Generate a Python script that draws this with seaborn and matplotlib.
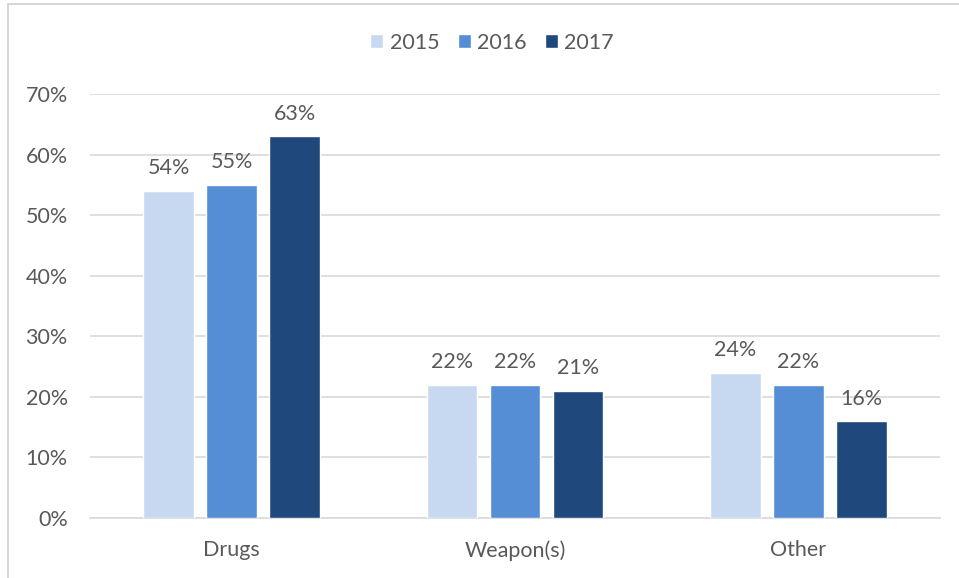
import matplotlib
matplotlib.use("Agg")
import matplotlib.pyplot as plt
import seaborn as sns
import pandas as pd
from matplotlib.patches import Rectangle
from matplotlib.ticker import PercentFormatter

categories = ["Drugs", "Weapon(s)", "Other"]
years = ["2015", "2016", "2017"]
values_2015 = [54, 22, 24]
values_2016 = [55, 22, 22]
values_2017 = [63, 21, 16]
yticks = [0, 10, 20, 30, 40, 50, 60, 70]

colors = ["#C6D9F0", "#558ED5", "#1F497D"]
text_color = "#595959"
grid_color = "#D9D9D9"

df = pd.DataFrame({
    "category": categories * 3,
    "year": [years[0]] * 3 + [years[1]] * 3 + [years[2]] * 3,
    "value": values_2015 + values_2016 + values_2017,
})

sns.set_theme(style="white")
plt.rcParams["font.family"] = ["Lato", "DejaVu Sans"]

fs = 15.5

fig = plt.figure(figsize=(9.59, 5.78), dpi=100)
ax = fig.add_axes([90 / 959, 1 - 518 / 578, 850 / 959, (518 - 94) / 578])

sns.barplot(data=df, x="category", y="value", hue="year", palette=colors,
            width=0.667, gap=0.2, ax=ax, saturation=1, legend=True, zorder=3)

ax.set_ylim(0, 70)
ax.set_xlim(-0.5, 2.5)
ax.set_yticks(yticks)
ax.yaxis.set_major_formatter(PercentFormatter(decimals=0))
ax.grid(axis="y", color=grid_color, linewidth=1.2, zorder=0)
ax.set_axisbelow(True)
for side in ["top", "right", "left"]:
    ax.spines[side].set_visible(False)
ax.spines["bottom"].set_color(grid_color)
ax.spines["bottom"].set_linewidth(1.2)
ax.tick_params(axis="both", length=0, labelsize=fs, colors=text_color)
ax.tick_params(axis="y", pad=16)
ax.tick_params(axis="x", pad=16)
ax.set_xlabel("")
ax.set_ylabel("")

for container in ax.containers:
    ax.bar_label(container, labels=[f"{v:.0f}%" for v in container.datavalues],
                 padding=9, fontsize=fs, color=text_color)

leg = ax.legend(loc="upper center", bbox_to_anchor=(0.473, 1.19), ncol=3,
                frameon=False, fontsize=fs, handlelength=0.6, handleheight=0.6,
                handletextpad=0.3, columnspacing=0.85, labelcolor=text_color)

# chart frame (partially outside the canvas)
fig.patches.append(Rectangle((8 / 959, -0.1), 1.2, 1 - 4 / 578 + 0.1,
                             transform=fig.transFigure, fill=False,
                             edgecolor="#D0D0D0", linewidth=1.2))

fig.savefig("out.png", dpi=100)
